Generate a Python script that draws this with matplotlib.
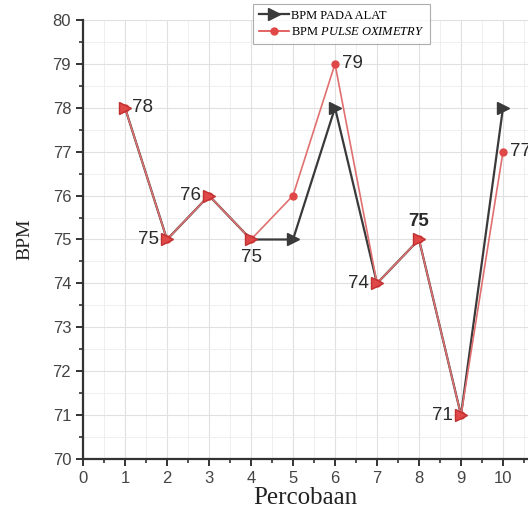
import matplotlib.pyplot as plt
import numpy as np
from matplotlib.lines import Line2D
from matplotlib.ticker import MultipleLocator

plt.rcParams['mathtext.fontset'] = 'custom'
plt.rcParams['mathtext.it'] = 'Liberation Serif:italic'
plt.rcParams['mathtext.rm'] = 'Liberation Serif'

percobaan = np.arange(1, 11)
bpm_alat = np.array([78, 75, 76, 75, 75, 78, 74, 75, 71, 78])
bpm_oxi = np.array([78, 75, 76, 75, 76, 79, 74, 75, 71, 77])

# label placement per point: (dx, dy, ha, va) in points
label_pos = [(5, 0, 'left', 'center'), (-6, 0, 'right', 'center'), (-6, 0, 'right', 'center'),
             (0, -7, 'center', 'top'), None, (5, 0, 'left', 'center'), (-6, 0, 'right', 'center'),
             (0, 7, 'center', 'bottom'), (-6, 0, 'right', 'center'), (5, 0, 'left', 'center')]

dark = '#3a3a3a'
red = '#e04848'

fig = plt.figure(figsize=(5.28, 5.14), dpi=100)
ax = fig.add_axes([83 / 528, 55 / 514, 1 - 83 / 528, 439 / 514])

ax.plot(percobaan, bpm_alat, color=dark, lw=1.6, zorder=3)
ax.plot(percobaan, bpm_oxi, color='#e07070', lw=1.2, zorder=4)
ax.plot(percobaan, bpm_oxi, color=red, lw=0, marker='o', ms=5, zorder=5)
same = bpm_alat == bpm_oxi
ax.plot(percobaan[~same], bpm_alat[~same], color=dark, lw=0, marker='>', ms=8.5, zorder=6)
ax.plot(percobaan[same], bpm_alat[same], color=red, mec='#c03030', lw=0, marker='>', ms=8.5, zorder=6)

for i, pos in enumerate(label_pos):
    if pos is None:
        continue
    dx, dy, ha, va = pos
    v = bpm_oxi[i]
    ax.annotate(str(v), (percobaan[i], v), xytext=(dx, dy), textcoords='offset points',
                ha=ha, va=va, fontsize=13.5, color='#2a2a2a', family='Liberation Sans',
                fontweight='bold' if i == 7 else 'normal', zorder=7)

ax.set_xlim(0, (528 - 83) / 42)
ax.set_ylim(70, 80)
ax.xaxis.set_major_locator(MultipleLocator(1))
ax.xaxis.set_minor_locator(MultipleLocator(0.5))
ax.yaxis.set_major_locator(MultipleLocator(1))
ax.yaxis.set_minor_locator(MultipleLocator(0.5))
ax.grid(which='major', color='#e0e0e0', lw=0.8)
ax.grid(which='minor', color='#ececec', lw=0.6)
ax.set_axisbelow(True)

for s in ['top', 'right']:
    ax.spines[s].set_visible(False)
for s in ['left', 'bottom']:
    ax.spines[s].set_linewidth(1.6)
    ax.spines[s].set_color('#333333')
ax.tick_params(which='major', direction='out', length=5, width=1.4, color='#333333',
               labelsize=12, labelcolor='#444444')
ax.tick_params(which='minor', direction='out', length=3, width=1.2, color='#333333')
for lab in ax.get_xticklabels() + ax.get_yticklabels():
    lab.set_family('Liberation Sans')

ax.set_xlabel('Percobaan', family='Liberation Serif', fontsize=18, color='#222222', labelpad=1)
ax.set_ylabel('BPM', family='Liberation Serif', fontsize=14, color='#222222', labelpad=14)

h1 = Line2D([], [], color=dark, marker='>', ms=9, lw=1.6)
h2 = Line2D([], [], color=red, marker='o', ms=5, lw=1.2)
leg = fig.legend([h1, h2], ['BPM PADA ALAT', r'BPM $\it{PULSE\ OXIMETRY}$'],
                 loc='upper left', bbox_to_anchor=(253 / 528, 1 - 4 / 514),
                 prop={'family': 'Liberation Serif', 'size': 9}, frameon=True,
                 fancybox=False, edgecolor='#999999', borderpad=0.45, labelspacing=0.35,
                 handlelength=2.4, handletextpad=0.2, borderaxespad=0)
leg.get_frame().set_linewidth(0.8)

plt.savefig('out.png', dpi=100)
